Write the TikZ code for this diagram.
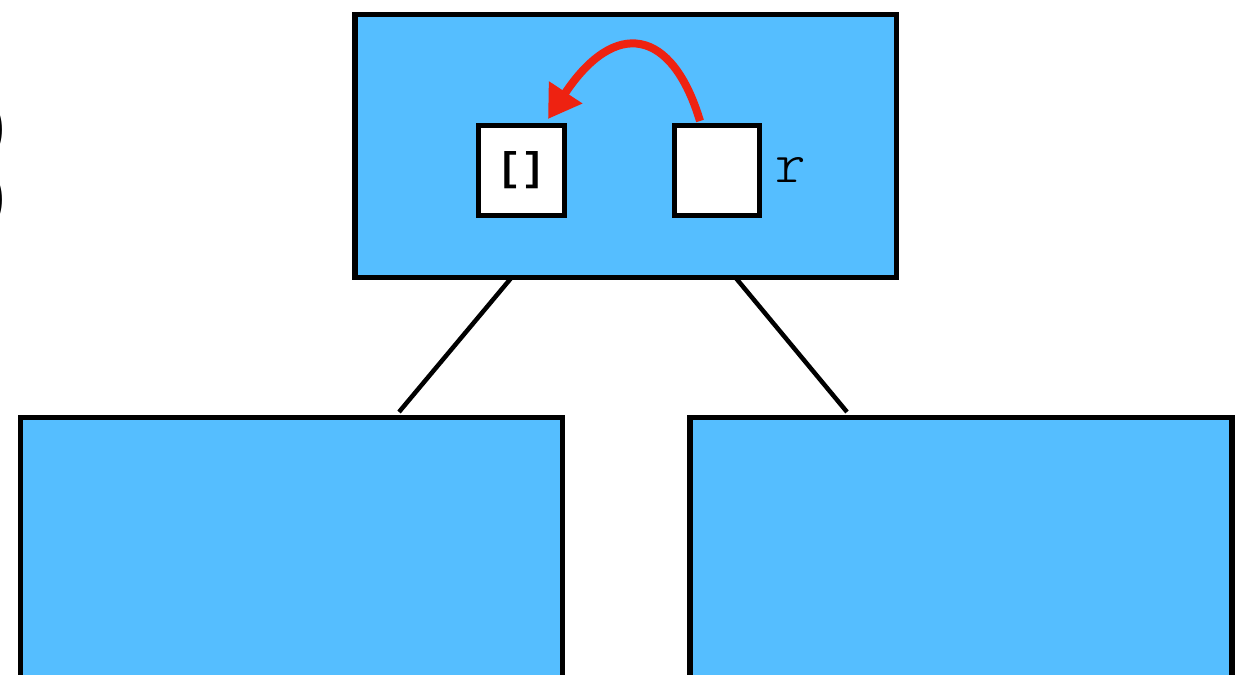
\documentclass[tikz,border=0pt]{standalone}
\usepackage{fontspec}
\newfontfamily\monofont{Latin Modern Mono Light}
\newfontfamily\courbold{Liberation Mono}
\usetikzlibrary{arrows.meta}
\definecolor{boxblue}{RGB}{85,190,255}
\definecolor{arrred}{RGB}{238,34,17}
\tikzset{
  bigbox/.style={draw=black, line width=5.5pt, fill=boxblue, inner sep=0pt, anchor=north west},
  cell/.style={draw=black, line width=5pt, fill=white, minimum width=85.5pt, minimum height=89.5pt, inner sep=0pt, anchor=north west},
  edge/.style={draw=black, line width=4.5pt},
  ptr/.style={draw=arrred, line width=8pt, -{Triangle[length=32pt,width=38pt]}},
  lbl/.style={font=\monofont\fontsize{58}{58}\selectfont, inner sep=0pt},
  paren/.style={font=\courbold\bfseries\fontsize{60}{60}\selectfont, inner sep=0pt}
}
\begin{document}
\begin{tikzpicture}[x=1pt,y=-1pt]
\useasboundingbox (0,0) rectangle (1238,674);
% cut-off text on the left edge
\node[paren, anchor=east] (p1) at (12.5,130) {)};
\node[paren, anchor=east] (p2) at (12.5,200) {)};
% boxes
\node[bigbox, minimum width=541.5pt, minimum height=262.5pt] (top) at (352,12) {};
\node[bigbox, minimum width=542pt, minimum height=300pt] (left) at (17.5,414.5) {};
\node[bigbox, minimum width=542pt, minimum height=300pt] (right) at (687,414.5) {};
% cells
\node[cell, font=\courbold\bfseries\fontsize{40}{40}\selectfont] (c1) at (476,123) {[]};
\node[cell] (c2) at (671.5,123) {};
\node[lbl, anchor=west] (r) at (775,170) {r};
% connectors
\coordinate (t1) at (512,277);
\coordinate (t2) at (735,277);
\coordinate (b1) at (399,412);
\coordinate (b2) at (847,412);
\draw[edge] (t1) -- (b1);
\draw[edge] (t2) -- (b2);
% pointer
\coordinate (s) at (700,121);
\coordinate (e) at (548,119);
\draw[ptr] (s) .. controls (672,28) and (615,18) .. (e);
\end{tikzpicture}
\end{document}
